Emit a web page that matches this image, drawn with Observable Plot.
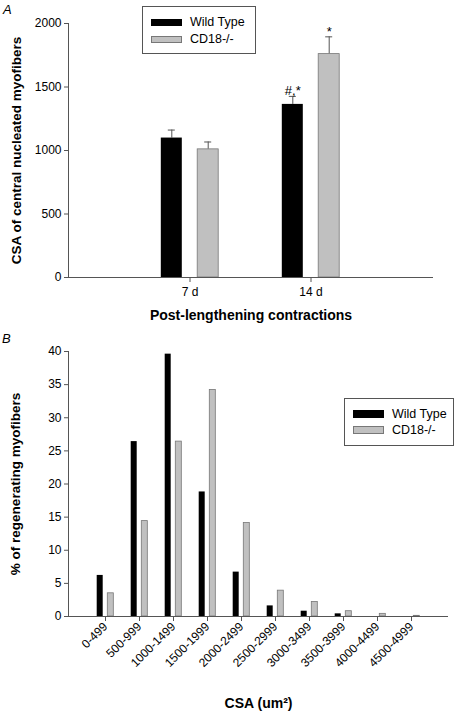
<!DOCTYPE html>
<html>
<head>
<meta charset="utf-8">
<script src="https://cdn.jsdelivr.net/npm/d3@7"></script>
<script src="https://cdn.jsdelivr.net/npm/@observablehq/plot@0.6"></script>
<style>
  body { margin: 0; background: #fff; }
  #wrap { position: relative; width: 454px; height: 715px; font-family: "Liberation Sans", Arial, sans-serif; }
  .panel { position: absolute; left: 0; }
  .legend { position: absolute; border: 1px solid #555; background: #fff; font-size: 12.5px; }
  .row { position: absolute; display: flex; align-items: center; }
  .sw { width: 31px; height: 7px; margin-right: 8px; box-sizing: border-box; }
  .letter { position: absolute; font-style: italic; font-size: 13px; }
</style>
</head>
<body>
<div id="wrap">
  <div class="panel" id="pA" style="top:0"></div>
  <div class="panel" id="pB" style="top:330px"></div>
  <div class="letter" style="left:3px;top:2px">A</div>
  <div class="letter" style="left:2px;top:331px">B</div>
  <div class="legend" style="left:142px;top:6px;width:112px;height:46px">
    <div class="row" style="left:8px;top:8px"><div class="sw" style="background:#000"></div>Wild Type</div>
    <div class="row" style="left:8px;top:25px"><div class="sw" style="background:#c0c0c0;border:1px solid #777"></div>CD18-/-</div>
  </div>
  <div class="legend" style="left:344px;top:398px;width:108px;height:46px">
    <div class="row" style="left:8px;top:8px"><div class="sw" style="background:#000;height:8px"></div>Wild Type</div>
    <div class="row" style="left:8px;top:24px"><div class="sw" style="background:#c0c0c0;border:1px solid #777;height:8px"></div>CD18-/-</div>
  </div>
</div>
<script>
// Panel A data
const groupsA = ["7 d", "14 d"];
const wtMeanA = [1098, 1363];
const wtErrA = [63, 63];
const cdMeanA = [1009, 1759];
const cdErrA = [58, 136];
const annotA = [["", ""], ["#,*", "*"]];
const yTicksA = [0, 500, 1000, 1500, 2000];

// Panel B data
const bins = ["0-499","500-999","1000-1499","1500-1999","2000-2499","2500-2999","3000-3499","3500-3999","4000-4499","4500-4999"];
const wtPct = [6.2, 26.4, 39.6, 18.8, 6.7, 1.6, 0.8, 0.4, 0, 0];
const cdPct = [3.5, 14.4, 26.4, 34.2, 14.1, 3.9, 2.2, 0.8, 0.4, 0.1];
const yTicksB = [0, 5, 10, 15, 20, 25, 30, 35, 40];

const axisColor = "#555";
const gray = "#c0c0c0";
const font = {fontFamily: "'Liberation Sans', Arial, sans-serif", fontSize: "12px", color: "#000", background: "transparent"};

const dataA = groupsA.map((g, i) => ({g, wt: wtMeanA[i], wte: wtMeanA[i] + wtErrA[i], cd: cdMeanA[i], cde: cdMeanA[i] + cdErrA[i], aw: annotA[i][0], ac: annotA[i][1]}));

const off = 18.2;
const plotA = Plot.plot({
  width: 454, height: 330,
  marginLeft: 68, marginRight: 21, marginTop: 23, marginBottom: 53,
  style: font,
  x: {type: "band", domain: groupsA, paddingInner: 0.823, paddingOuter: 0.912, label: null},
  y: {domain: [0, 2000], label: null},
  marks: [
    Plot.ruleX(dataA, {x: "g", y1: "wt", y2: "wte", dx: -off, stroke: axisColor}),
    Plot.ruleX(dataA, {x: "g", y1: "cd", y2: "cde", dx: off, stroke: axisColor}),
    Plot.tickY(dataA, {x: "g", y: "wte", dx: -off, stroke: axisColor, insetLeft: 7, insetRight: 7}),
    Plot.tickY(dataA, {x: "g", y: "cde", dx: off, stroke: axisColor, insetLeft: 7, insetRight: 7}),
    Plot.barY(dataA, {x: "g", y: "wt", dx: -off, fill: "#000"}),
    Plot.barY(dataA, {x: "g", y: "cd", dx: off, fill: gray, stroke: "#777", strokeWidth: 0.8}),
    Plot.text(dataA, {x: "g", y: "wte", text: "aw", dx: -off, dy: -1, lineAnchor: "bottom", fontSize: 13}),
    Plot.text(dataA, {x: "g", y: "cde", text: "ac", dx: off, dy: -1, lineAnchor: "bottom", fontSize: 13}),
    Plot.ruleY([0], {stroke: axisColor}),
    Plot.frame({anchor: "left", stroke: axisColor}),
    Plot.axisY({ticks: yTicksA, tickFormat: d => String(d), tickSize: 4, tickPadding: 3, stroke: axisColor, fill: "#000", label: null, fontSize: 12}),
    Plot.axisX({tickSize: 5, tickPadding: 5, stroke: axisColor, fill: "#000", label: null, fontSize: 12}),
    Plot.text(["CSA of central nucleated myofibers"], {frameAnchor: "left", textAnchor: "middle", dx: -52, rotate: -90, fontWeight: "bold", fontSize: 13.5}),
    Plot.text(["Post-lengthening contractions"], {frameAnchor: "bottom", dy: 42, fontWeight: "bold", fontSize: 14})
  ]
});
document.getElementById("pA").appendChild(plotA);

const dataB = bins.map((b, i) => ({b, wt: wtPct[i], cd: cdPct[i]}));
const offB = 5.3;
const plotB = Plot.plot({
  width: 454, height: 385,
  marginLeft: 68, marginRight: 6, marginTop: 21, marginBottom: 99,
  style: font,
  x: {type: "band", domain: bins, paddingInner: 0.826, paddingOuter: 0.918, label: null},
  y: {domain: [0, 40], label: null},
  marks: [
    Plot.barY(dataB, {x: "b", y: "wt", dx: -offB, fill: "#000"}),
    Plot.barY(dataB.filter(d => d.cd > 0), {x: "b", y: "cd", dx: offB, fill: gray, stroke: "#777", strokeWidth: 0.8}),
    Plot.ruleY([0], {stroke: axisColor}),
    Plot.frame({anchor: "left", stroke: axisColor}),
    Plot.axisY({ticks: yTicksB, tickFormat: d => String(d), tickSize: 4, tickPadding: 3, stroke: axisColor, fill: "#000", label: null, fontSize: 12}),
    Plot.axisX({tickSize: 5, tickPadding: 3, tickRotate: -45, stroke: axisColor, fill: "#000", label: null, fontSize: 12}),
    Plot.text(["% of regenerating myofibers"], {frameAnchor: "left", textAnchor: "middle", dx: -53, rotate: -90, fontWeight: "bold", fontSize: 13.5}),
    Plot.text(["CSA (um²)"], {frameAnchor: "bottom", dy: 91, fontWeight: "bold", fontSize: 14})
  ]
});
document.getElementById("pB").appendChild(plotB);
</script>
</body>
</html>
